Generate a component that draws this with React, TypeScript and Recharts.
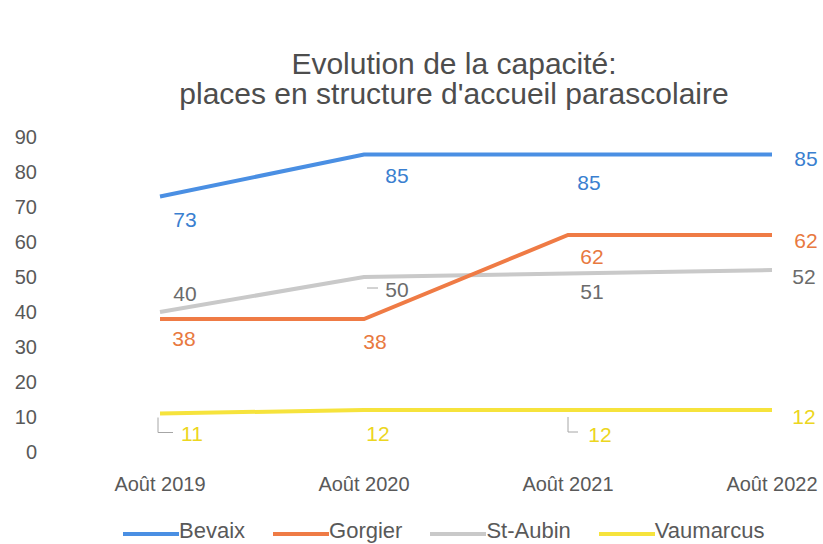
import { LineChart, Line, XAxis, YAxis, Legend, LabelList } from 'recharts'

const years = ['Août 2019', 'Août 2020', 'Août 2021', 'Août 2022']
const bevaix = [73, 85, 85, 85]
const gorgier = [38, 38, 62, 62]
const stAubin = [40, 50, 51, 52]
const vaumarcus = [11, 12, 12, 12]
const yTicks = [0, 10, 20, 30, 40, 50, 60, 70, 80, 90]

const data = years.map((year, i) => ({
  year,
  Bevaix: bevaix[i],
  Gorgier: gorgier[i],
  'St-Aubin': stAubin[i],
  Vaumarcus: vaumarcus[i],
}))

const FONT = '"Liberation Sans", Arial, sans-serif'
const TEXT = '#595959'

type Leader = Record<number, [number, number][]>

// label placement (dx, dy from the point), like Excel placed them
const series = [
  {
    key: 'Bevaix', color: '#4a8fe3', labelColor: '#3a7fd0',
    offsets: [[25, 23], [33, 21], [21, 28], [34, 4]], leaders: {} as Leader,
  },
  {
    key: 'Gorgier', color: '#ef7b45', labelColor: '#e8793f',
    offsets: [[24, 19], [11, 22], [24, 21], [34, 5]], leaders: {} as Leader,
  },
  {
    key: 'St-Aubin', color: '#c9c9c9', labelColor: '#6b6b6b',
    offsets: [[25, -19], [33, 12], [24, 18], [32, 6]],
    leaders: { 1: [[3, 11], [14, 11]] } as Leader,
  },
  {
    key: 'Vaumarcus', color: '#f6e33c', labelColor: '#ecd620',
    offsets: [[32, 20], [14, 23], [32, 24], [32, 6]],
    leaders: { 0: [[-2, 4], [-2, 19], [13, 19]], 2: [[0, 7], [0, 22], [10, 22]] } as Leader,
  },
]

const drawOrder = ['Vaumarcus', 'St-Aubin', 'Gorgier', 'Bevaix']

function PointLabel(props: any) {
  const { x, y, value, index, s } = props
  const [dx, dy] = s.offsets[index] || [0, -15]
  const leader = s.leaders[index]
  return (
    <g>
      {leader && (
        <polyline
          points={leader.map(([lx, ly]: [number, number]) => `${x + lx},${y + ly}`).join(' ')}
          fill="none"
          stroke="#a6a6a6"
          strokeWidth={1}
        />
      )}
      <text
        x={x + dx}
        y={y + dy}
        textAnchor="middle"
        dominantBaseline="central"
        fontSize={21}
        fontFamily={FONT}
        fill={s.labelColor}
      >
        {value}
      </text>
    </g>
  )
}

function LegendContent() {
  return (
    <div style={{ display: 'flex', alignItems: 'center', paddingLeft: 123, fontFamily: FONT, fontSize: 22, color: TEXT }}>
      {series.map((s) => (
        <div key={s.key} style={{ display: 'flex', alignItems: 'center', marginRight: 28 }}>
          <span style={{ display: 'inline-block', width: 56, height: 4, background: s.color, marginTop: 6 }} />
          <span>{s.key}</span>
        </div>
      ))}
    </div>
  )
}

export default function App() {
  return (
    <div style={{ position: 'absolute', left: 0, top: 0, width: 823, height: 544, background: '#fff' }}>
      <div
        style={{
          position: 'absolute', left: 454, top: 49, transform: 'translateX(-50%)',
          whiteSpace: 'nowrap', textAlign: 'center', fontFamily: FONT, fontSize: 30,
          lineHeight: '30px', color: '#4d4d4d',
        }}
      >
        Evolution de la capacité:
        <br />
        places en structure d'accueil parascolaire
      </div>
      <LineChart width={823} height={544} data={data} margin={{ top: 137, right: 0, bottom: 0, left: 0 }}>
        <XAxis
          dataKey="year"
          axisLine={false}
          tickLine={false}
          interval={0}
          height={63}
          tickMargin={19}
          padding={{ left: 115, right: 51 }}
          tick={{ fontSize: 20, fill: TEXT, fontFamily: FONT }}
        />
        <YAxis
          domain={[0, 90]}
          ticks={yTicks}
          axisLine={false}
          tickLine={false}
          width={45}
          tick={{ fontSize: 20, fill: TEXT, fontFamily: FONT }}
        />
        <Legend
          verticalAlign="bottom"
          content={<LegendContent />}
          wrapperStyle={{ left: 0, top: 518, width: 823, height: 29 }}
        />
        {drawOrder.map((k) => {
          const s = series.find((x) => x.key === k)!
          return (
            <Line
              key={k}
              type="linear"
              dataKey={k}
              stroke={s.color}
              strokeWidth={4}
              dot={false}
              activeDot={false}
              legendType="none"
              isAnimationActive={false}
            >
              <LabelList dataKey={k} content={(p: any) => <PointLabel {...p} s={s} />} />
            </Line>
          )
        })}
      </LineChart>
    </div>
  )
}
